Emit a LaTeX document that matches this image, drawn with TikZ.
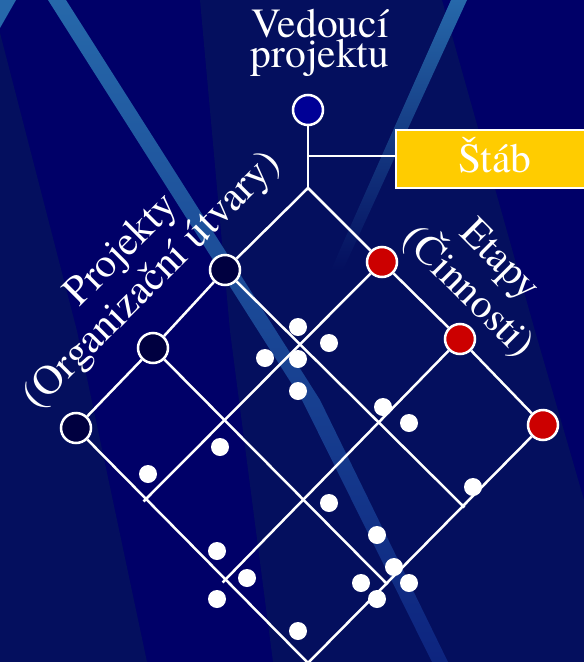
\documentclass[tikz,border=0pt]{standalone}
\usepackage{fontspec}
\newfontfamily\tnr{texgyretermes-regular.otf}
\definecolor{navyA}{RGB}{0,0,104}
\definecolor{navyB}{RGB}{4,15,94}
\definecolor{streak}{RGB}{38,104,170}
\definecolor{leadblue}{RGB}{0,0,150}
\definecolor{darkball}{RGB}{0,0,64}
\definecolor{redball}{RGB}{204,0,0}
\definecolor{gold}{RGB}{255,204,0}
\begin{document}
\begin{tikzpicture}[x=1pt,y=-1pt,
  gridline/.style={white,line width=2.5pt},
  ball/.style={circle,draw=white,line width=2.5pt,minimum size=30pt,inner sep=0pt},
  wdot/.style={circle,fill=white,minimum size=18pt,inner sep=0pt},
  txt/.style={text=white,inner sep=0pt,font=\tnr\fontsize{41.5}{43}\selectfont,align=center}
]
\clip (0,0) rectangle (584,662);
% background
\fill[navyA] (0,0) rectangle (584,662);
\fill[navyB] (0,33) -- (77,331) -- (147,662) -- (0,662) -- cycle;
\fill[navyB] (200,0) -- (442,0) -- (535,331) -- (584,500) -- (584,662) -- (273,662) -- (230,331) -- cycle;
\shade[top color=streak, bottom color=streak!35!navyA] (48,0) -- (66,0) -- (320,400) -- (448,662) -- (432,662) -- (302,400) -- cycle;
\shade[top color=streak, bottom color=navyB] (451,0) -- (467,0) -- (343,270) -- (331,270) -- cycle;
\fill[streak] (0,0) -- (16,0) -- (0,28) -- cycle;
% texts
\node[txt,anchor=base] (vt1) at (320,37) {Vedoucí};
\node[txt,anchor=base] (vt2) at (320,67) {projektu};
\node[txt,rotate=45] (proj) at (138,266) {Projekty\\(Organizační útvary)};
\node[txt,rotate=-45] (etap) at (483,277) {Etapy\\(Činnosti)};
% nodes
\coordinate (apex) at (308,188);
\coordinate (bot) at (308,663);
\coordinate (j) at (308,156);
\node[ball,fill=leadblue] (lead) at (308,110) {};
\node[draw=white,line width=2pt,fill=gold,minimum width=198pt,minimum height=58pt,anchor=west,
  text height=28pt,text depth=0pt,inner sep=0pt,text=white,font=\tnr\fontsize{41.5}{43}\selectfont] (stab) at (395,158.5) {Štáb};
\node[ball,fill=darkball] (d1) at (225,270) {};
\node[ball,fill=darkball] (d2) at (153,348) {};
\node[ball,fill=darkball] (d3) at (76,428) {};
\node[ball,fill=redball] (r1) at (382,262) {};
\node[ball,fill=redball] (r2) at (460,339) {};
\node[ball,fill=redball] (r3) at (543,425) {};
\coordinate (e1) at (463,506);
\coordinate (e2) at (386,583);
\coordinate (f1) at (145,500);
\coordinate (f2) at (224,581);
% connectors
\draw[gridline] (lead) -- (apex);
\draw[gridline] (j) -- (j -| stab.west);
\draw[gridline] (apex) -- (d1);
\draw[gridline] (d1) -- (d2);
\draw[gridline] (d2) -- (d3);
\draw[gridline] (d3) -- (bot);
\draw[gridline] (apex) -- (r1);
\draw[gridline] (r1) -- (r2);
\draw[gridline] (r2) -- (r3);
\draw[gridline] (r3) -- (bot);
\draw[gridline,shorten >=-2pt] (d1) -- (e1);
\draw[gridline,shorten >=-2pt] (d2) -- (e2);
\draw[gridline,shorten >=-2pt] (r1) -- (f1);
\draw[gridline,shorten >=-2pt] (r2) -- (f2);
% dots
\foreach \p [count=\i] in {(298,327),(329,343),(265,358),(298,359),(298,391),(383,407),(409,423),(220,447),(148,474),(473,487),(329,503),(377,535),(217,551),(394,567),(247,578),(361,583),(409,583),(377,599),(217,599),(298,631)}
  \node[wdot] (p\i) at \p {};
\end{tikzpicture}
\end{document}
